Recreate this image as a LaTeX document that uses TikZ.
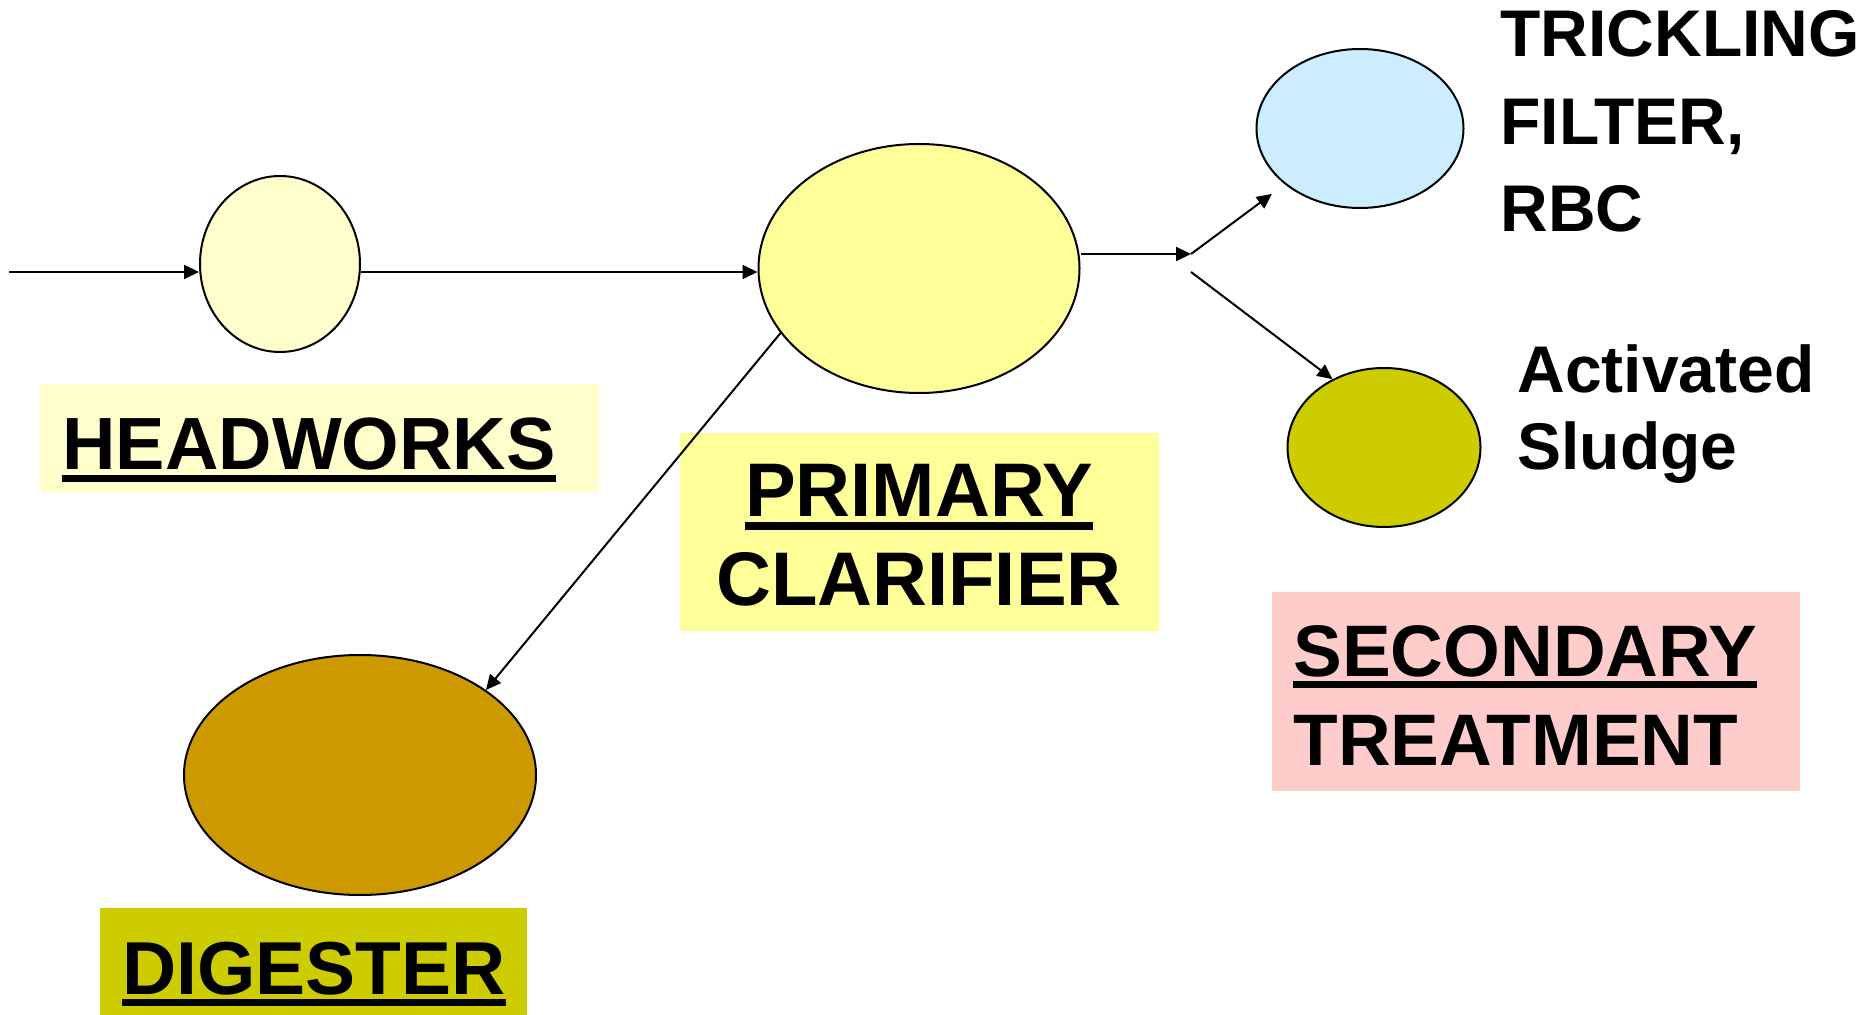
\documentclass[tikz,border=0pt]{standalone}
\usepackage{fontspec}
\setmainfont{Liberation Sans}
\usepackage{tikz}
\usetikzlibrary{arrows.meta,calc,shapes.geometric}
\definecolor{hwfill}{HTML}{FFFFCC}
\definecolor{pcfill}{HTML}{FFFF99}
\definecolor{tffill}{HTML}{CCECFF}
\definecolor{asfill}{HTML}{CCCC00}
\definecolor{dgfill}{HTML}{CC9900}
\definecolor{stfill}{HTML}{FFCCCC}
\newcommand{\ulbar}[1]{\setbox0\hbox{#1}\rlap{\rule[-0.165em]{\wd0}{0.095em}}\box0}

\begin{document}
\begin{tikzpicture}[x=0.5pt,y=-0.5pt,
    unit/.style={ellipse,draw=black,line width=1pt,inner sep=0pt},
    tag/.style={rectangle,inner sep=0pt,draw=none},
    txt/.style={anchor=base west,inner sep=0pt},
    arr/.style={-{Triangle[length=7.5pt,width=7pt]},line width=1pt}
  ]
  \useasboundingbox (0,0) rectangle (1864,1015);
  % treatment units
  \node[unit,fill=hwfill,minimum width=80pt,minimum height=88pt] (hw) at (280,264) {};
  \node[unit,fill=pcfill,minimum width=160.5pt,minimum height=124.5pt] (pc) at (919,268.5) {};
  \node[unit,fill=tffill,minimum width=103.5pt,minimum height=79.5pt] (tf) at (1360,128.5) {};
  \node[unit,fill=asfill,minimum width=96.5pt,minimum height=79.5pt] (as) at (1384,447.5) {};
  \node[unit,fill=dgfill,minimum width=176pt,minimum height=120pt] (dg) at (360,775) {};
  % coloured label boxes
  \node[tag,fill=hwfill,minimum width=279.5pt,minimum height=54pt] (hwbox) at (319.5,438) {};
  \node[tag,fill=pcfill,minimum width=239.5pt,minimum height=99pt] (pcbox) at (919.5,532) {};
  \node[tag,fill=asfill,minimum width=213.5pt,minimum height=53.5pt] (dgbox) at (313.5,961.5) {};
  \node[tag,fill=stfill,minimum width=264pt,minimum height=99.5pt] (stbox) at (1536,691.5) {};
  % labels (base = last line)
  \node[txt,font=\bfseries\fontsize{37}{44}\selectfont] (hwtext) at (62,470) {\ulbar{HEADWORKS}};
  \node[txt,anchor=base,align=center,font=\bfseries\fontsize{38}{44.5}\selectfont] (pctext) at (919,606) {\ulbar{PRIMARY}\\CLARIFIER};
  \node[txt,font=\bfseries\fontsize{37.5}{44}\selectfont] (dgtext) at (122,994) {\ulbar{DIGESTER}};
  \node[txt,align=left,font=\bfseries\fontsize{36.5}{44.5}\selectfont] (sttext) at (1293,765) {\ulbar{SECONDARY}\\TREATMENT};
  \node[txt,align=left,font=\bfseries\fontsize{33}{43.75}\selectfont] (tftext) at (1500,232) {TRICKLING\\FILTER,\\RBC};
  \node[txt,align=left,font=\bfseries\fontsize{33}{38.5}\selectfont] (astext) at (1517,470) {Activated\\Sludge};
  % flow lines
  \coordinate (feed) at (9,272);
  \coordinate (split) at (1191,254);
  \coordinate (split2) at (1191,272);
  \draw[arr] (feed) -- (feed -| hw.west);
  \draw[arr] (hw.east |- feed) -- (pc.west |- feed);
  \draw[arr] (pc.east |- split) -- (split);
  \draw[arr,shorten >=8pt] (split) -- (tf);
  \draw[arr] (split2) -- (as.127);
  \draw[arr] (pc.205) -- (dg.34);
\end{tikzpicture}
\end{document}
